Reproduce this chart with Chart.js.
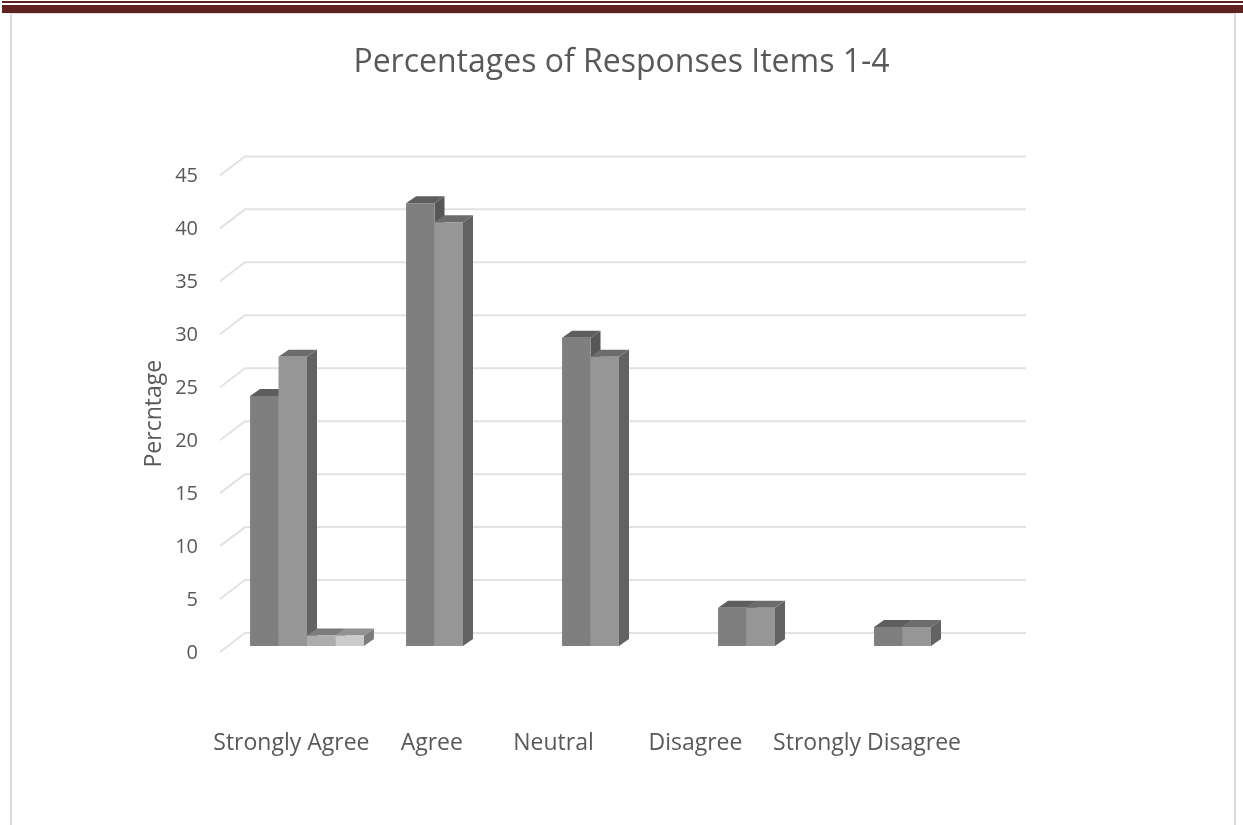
<!DOCTYPE html>
<html>
<head>
<meta charset="utf-8">
<title>Percentages of Responses Items 1-4</title>
<script src="https://cdn.jsdelivr.net/npm/chart.js@4"></script>
<style>
html, body { margin: 0; padding: 0; background: #fff; overflow: hidden; }
#page { position: relative; width: 1243px; height: 825px; }
#chart { position: absolute; left: 0; top: 0; }
.rule { position: absolute; }
.band { background: #5f2220; left: 2px; right: 0; }
.edge { background: #dcdcdc; }
</style>
</head>
<body>
<div id="page">
  <canvas id="chart" width="1243" height="825"></canvas>
  <div class="rule band" style="top:1px;height:2px"></div>
  <div class="rule band" style="top:5px;height:8px"></div>
  <div class="rule edge" style="left:10px;top:13px;width:2px;bottom:0"></div>
  <div class="rule edge" style="left:1234px;top:13px;width:2px;bottom:0"></div>
  <div class="rule edge" style="left:10px;top:13px;width:1226px;height:1px"></div>
</div>
<script>
/* ---------- data ---------- */

const categories = ["Strongly Agree", "Agree", "Neutral", "Disagree", "Strongly Disagree"];

// where each category name sits along the axis, in category widths
const categorySlots = [0.40, 1.30, 2.08, 2.99, 4.09];

const series1 = [23.6, 41.8, 29.1, 3.6, 1.8];
const series2 = [27.3, 40, 27.3, 3.6, 1.8];
const series3 = [1, null, null, null, null];
const series4 = [1, null, null, null, null];

const yMax = 45;
const yStep = 5;

/* ---------- styles ---------- */

const textColor = "#595959";
const gridColor = "#e2e2e2";
const fontFamily = "'Open Sans', sans-serif";

const frontColors = ["#7f7f7f", "#969696", "#adadad", "#cbcbcb"];
const topColors = ["#5e5e5e", "#6c6c6c", "#7c7c7c", "#929292"];
const sideColors = ["#575757", "#626262", "#6f6f6f", "#7c7c7c"];

// bar depth, and the offset of the back wall from the bar plane
const depthX = 10;
const depthY = -7;
const wallX = 16;
const wallY = -13;

/* ---------- fake 3d: back wall gridlines and bar faces ---------- */

function face(ctx, color, pts) {
    ctx.fillStyle = color;
    ctx.beginPath();
    pts.forEach((p, i) => i ? ctx.lineTo(p[0], p[1]) : ctx.moveTo(p[0], p[1]));
    ctx.closePath();
    ctx.fill();
}

const wallPlugin = {
    id: "wall",
    beforeDatasetsDraw(chart) {
        const { ctx, chartArea, scales } = chart;
        ctx.save();
        ctx.strokeStyle = gridColor;
        ctx.lineWidth = 2;
        scales.y.ticks.forEach(t => {
            const y = scales.y.getPixelForValue(t.value);
            ctx.beginPath();
            ctx.moveTo(chartArea.left - 9, y + 6);
            ctx.lineTo(chartArea.left + wallX, y + wallY);
            ctx.lineTo(chartArea.right + wallX + 1, y + wallY);
            ctx.stroke();
        });

        chart.data.datasets.forEach((ds, d) => {
            chart.getDatasetMeta(d).data.forEach((bar, i) => {
                if (ds.data[i] === null) return;
                const p = bar.getProps(["x", "y", "base", "width"], true);
                const l = p.x - p.width / 2;
                const r = p.x + p.width / 2;
                face(ctx, sideColors[d], [
                    [r, p.y], [r + depthX, p.y + depthY],
                    [r + depthX, p.base + depthY], [r, p.base]
                ]);
                face(ctx, topColors[d], [
                    [l, p.y], [l + depthX, p.y + depthY],
                    [r + depthX, p.y + depthY], [r, p.y]
                ]);
            });
        });
        ctx.restore();
    }
};

/* ---------- chart ---------- */

new Chart(document.getElementById("chart"), {
    type: "bar",
    plugins: [wallPlugin],
    data: {
        labels: categories,
        datasets: [series1, series2, series3, series4].map((values, i) => ({
            label: "Series " + (i + 1),
            data: values,
            backgroundColor: frontColors[i],
            borderWidth: 0,
            categoryPercentage: 0.73,
            barPercentage: 1,
            xAxisID: "x",
            yAxisID: "y"
        }))
    },
    options: {
        responsive: false,
        animation: false,
        layout: { padding: { left: 0, right: 0, bottom: 60, top: 0 } },
        plugins: {
            legend: { display: false },
            tooltip: { enabled: false },
            title: {
                display: true,
                text: "Percentages of Responses Items 1-4",
                color: textColor,
                font: { family: fontFamily, size: 32, weight: "normal" },
                padding: { top: 44, bottom: 87 }
            }
        },
        scales: {
            x: { display: false },
            // the names sit on their own scale, they do not line up with the groups
            names: {
                type: "linear",
                position: "bottom",
                offset: false,
                min: 0,
                max: categories.length,
                afterBuildTicks(scale) {
                    scale.ticks = categorySlots.map(v => ({ value: v }));
                },
                afterFit(scale) {
                    scale.height = 119;
                },
                grid: { display: false },
                border: { display: false },
                ticks: {
                    color: textColor,
                    font: { family: fontFamily, size: 23 },
                    padding: 76,
                    autoSkip: false,
                    maxRotation: 0,
                    minRotation: 0,
                    callback: (value, index) => categories[index]
                }
            },
            y: {
                min: 0,
                max: yMax,
                afterFit(scale) {
                    scale.width = 229;
                },
                grid: { display: false, drawTicks: false },
                border: { display: false },
                title: {
                    display: true,
                    // trailing spaces nudge the rotated text below the scale's middle
                    text: "Percntage\u00a0\u00a0",
                    color: textColor,
                    font: { family: fontFamily, size: 23 },
                    padding: { top: 141, bottom: 0 }
                },
                ticks: {
                    stepSize: yStep,
                    color: textColor,
                    font: { family: fontFamily, size: 20 },
                    padding: 31,
                    labelOffset: 7
                }
            },
            // empty axis keeps the plot clear of the right side, so the title stays centred on the page
            spare: {
                axis: "y",
                position: "right",
                afterFit(scale) {
                    scale.width = 234;
                },
                grid: { display: false },
                border: { display: false },
                ticks: { display: false }
            }
        }
    }
});
</script>
</body>
</html>
